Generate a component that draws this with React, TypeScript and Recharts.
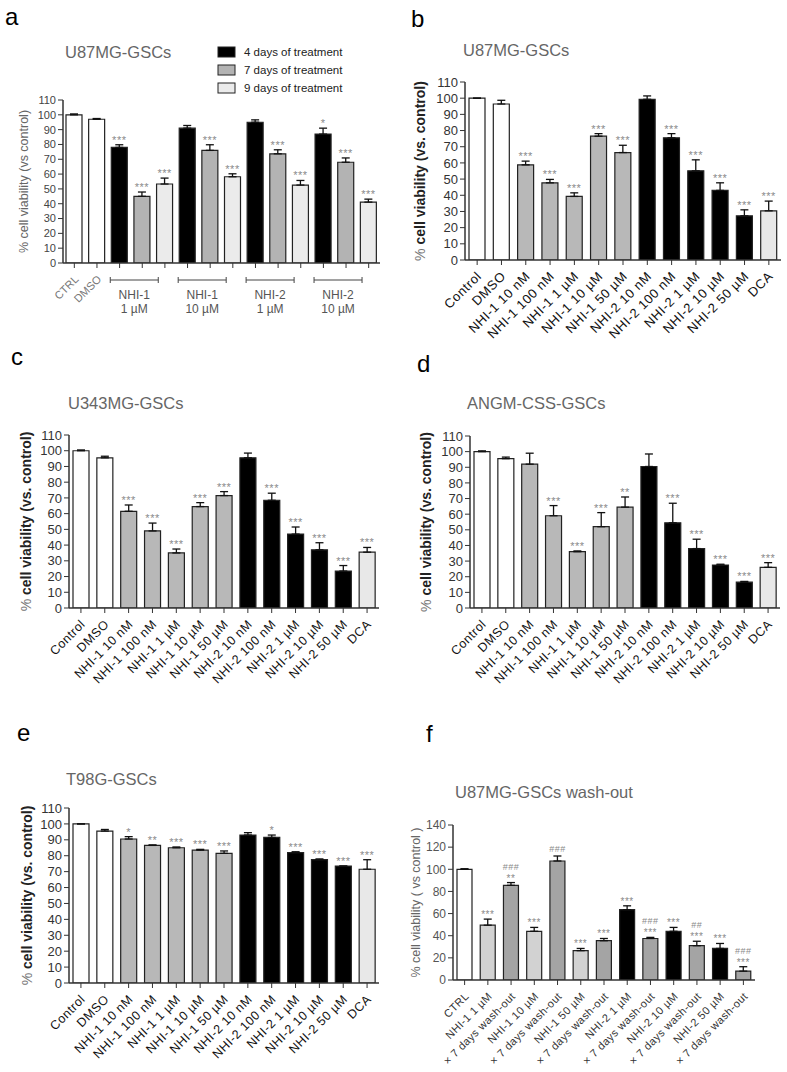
import React from 'react';
import { BarChart, Bar, XAxis, YAxis, Cell, ErrorBar, LabelList } from 'recharts';

const FONT = '"Liberation Sans", Arial, Helvetica, sans-serif';
const AX = '#333';

// ---- panel a : U87MG-GSCs, 4 / 7 / 9 days ----
const aControls = ['CTRL', 'DMSO'];
const aControlVals = [100, 97];
const aControlErr = [0.6, 0.5];
const aGroups = ['NHI-1|1 µM', 'NHI-1|10 µM', 'NHI-2|1 µM', 'NHI-2|10 µM'];
const aSeries = ['4 days of treatment', '7 days of treatment', '9 days of treatment'];
const aSeriesColors = ['#000000', '#b3b3b3', '#ebebeb'];
const a4d = [78, 91, 95, 87];
const a4dErr = [1.8, 1.8, 1.6, 4];
const a4dSig = ['***', '', '', '*'];
const a7d = [45, 76, 73.7, 68];
const a7dErr = [2.9, 3.8, 2.7, 2.9];
const a7dSig = ['***', '***', '***', '***'];
const a9d = [53.3, 58.2, 52.6, 41.1];
const a9dErr = [4, 2, 3.1, 2];
const a9dSig = ['***', '***', '***', '***'];

// ---- panels b-e : dose series ----
const doseLabels = [
  'Control', 'DMSO', 'NHI-1 10 nM', 'NHI-1 100 nM', 'NHI-1 1 µM', 'NHI-1 10 µM', 'NHI-1 50 µM',
  'NHI-2 10 nM', 'NHI-2 100 nM', 'NHI-2 1 µM', 'NHI-2 10 µM', 'NHI-2 50 µM', 'DCA',
];
const doseColors = [
  '#ffffff', '#ffffff', '#b8b8b8', '#b8b8b8', '#b8b8b8', '#b8b8b8', '#b8b8b8',
  '#000000', '#000000', '#000000', '#000000', '#000000', '#e8e8e8',
];

const bVals = [100, 96.4, 58.8, 47.7, 39.3, 76.5, 66.4, 99.3, 75.5, 55.1, 43, 27.3, 30.4];
const bErr = [0, 2.3, 2.3, 2.1, 2.2, 1.6, 4.5, 2.1, 2.6, 6.8, 4.7, 3.7, 6];
const bSig = ['', '', '***', '***', '***', '***', '***', '', '***', '***', '***', '***', '***'];

const cVals = [100, 95.5, 61.5, 49, 35, 64.5, 71.5, 95.5, 68.5, 47, 37, 23.5, 35.5];
const cErr = [0.5, 1, 4, 5, 2.5, 2.5, 2.5, 3, 4.5, 4.5, 4.5, 3.5, 3];
const cSig = ['', '', '***', '***', '***', '***', '***', '', '***', '***', '***', '***', '***'];

const dVals = [100, 95.5, 92, 59, 36, 52, 64.5, 90.5, 54.5, 38, 27.5, 16.5, 26];
const dErr = [0.5, 1, 7, 6.5, 0.5, 9, 6.5, 8, 12.5, 6, 0.5, 0.5, 3];
const dSig = ['', '', '', '***', '***', '***', '**', '', '***', '***', '***', '***', '***'];

const eVals = [100, 95.5, 90.5, 86.5, 85, 83.5, 81.5, 93, 91.5, 82, 77.5, 73.5, 71.5];
const eErr = [0, 1, 1.5, 0.3, 0.5, 0.5, 1.5, 1.5, 1.5, 0.5, 0.5, 0, 6];
const eSig = ['', '', '*', '**', '***', '***', '***', '', '*', '***', '***', '***', '***'];

// ---- panel f : wash-out ----
const fLabels = [
  'CTRL', 'NHI-1 1 µM', '× 7 days wash-out', 'NHI-1 10 µM', '× 7 days wash-out', 'NHI-1 50 µM',
  '× 7 days wash-out', 'NHI-2 1 µM', '× 7 days wash-out', 'NHI-2 10 µM', '× 7 days wash-out',
  'NHI-2 50 µM', '× 7 days wash-out',
];
const fColors = [
  '#ffffff', '#d2d2d2', '#a4a4a4', '#d2d2d2', '#a4a4a4', '#d2d2d2', '#a4a4a4',
  '#000000', '#a4a4a4', '#000000', '#a4a4a4', '#000000', '#a4a4a4',
];
const fVals = [100, 49.5, 85.5, 44, 107.5, 26.5, 35.5, 63.5, 37.5, 44, 31, 28.5, 8];
const fErr = [0.5, 5.5, 2.5, 3.5, 4.5, 2, 2, 3.5, 1, 3.5, 4, 4.5, 4];
const fSig = ['', '***', '**', '***', '', '***', '***', '***', '***', '***', '***', '***', '***'];
const fHash = ['', '', '###', '', '###', '', '', '', '###', '', '##', '', '###'];

const ticks110 = [0, 10, 20, 30, 40, 50, 60, 70, 80, 90, 100, 110];
const ticks140 = [0, 20, 40, 60, 80, 100, 120, 140];

type Row = { key: string; v: number; e: number; er: number[]; sig: string; fill: string };

const mkRows = (labels: string[], vals: number[], err: number[], sig: string[], colors: string[]): Row[] =>
  labels.map((l, i) => ({ key: `${l}#${i}`, v: vals[i], e: err[i], er: [0, err[i]], sig: sig[i], fill: colors[i] }));

const aRows: Row[] = [
  ...aControls.map((l, i) => ({
    key: `${l}#${i}`, v: aControlVals[i], e: aControlErr[i], er: [0, aControlErr[i]], sig: '', fill: '#ffffff',
  })),
  ...aGroups.flatMap((g, gi) =>
    [[a4d, a4dErr, a4dSig], [a7d, a7dErr, a7dSig], [a9d, a9dErr, a9dSig]].map(([v, e, s], si) => ({
      key: `${si === 1 ? g : ''}#${2 + gi * 3 + si}`,
      v: v[gi] as number, e: e[gi] as number, er: [0, e[gi] as number], sig: s[gi] as string, fill: aSeriesColors[si],
    })),
  ),
];

const fRows: Row[] = mkRows(
  fLabels, fVals, fErr,
  fSig.map((s, i) => [fHash[i], s].filter(Boolean).join('|')),
  fColors,
);

// significance marks sit above the error-bar cap: the cap height is taken
// from the bar's own pixel height (px per unit = height / value)
const sigContent = (rows: Row[], fs: number, color: string) => (props: any) => {
  const vb = props.viewBox ?? props;
  const { value, index } = props;
  if (!value) return null;
  const r = rows[index];
  const top = vb.y - (r.v ? (Math.abs(vb.height) * r.e) / r.v : 0);
  const lines = String(value).split('|');
  const cx = vb.x + vb.width / 2;
  return (
    <g>
      {lines.map((t, i) => {
        const up = lines.length - 1 - i;
        const hash = t.startsWith('#');
        const by = top - 1 - (hash ? 3 : 0) - up * 9;
        return (
          <text key={i} x={cx} y={by} textAnchor="middle" fontSize={hash ? fs - 1 : fs}
            fill={color} fontFamily={FONT} letterSpacing={0.5}>{t}</text>
        );
      })}
    </g>
  );
};

const slantTick = (fs: number, color: string, ls = 0) => (p: any) => {
  const label = String(p.payload.value).split('#')[0];
  const ax = p.x + 5;
  const ay = p.y + 10;
  return (
    <text x={ax} y={ay} transform={`rotate(-45 ${ax} ${ay})`} textAnchor="end"
      fontSize={fs} fill={color} fontFamily={FONT} letterSpacing={ls}>{label}</text>
  );
};

const aTick = (p: any) => {
  const [label, idx] = String(p.payload.value).split('#');
  const i = Number(idx);
  if (i < 2) return slantTick(11, '#777')(p);
  if (!label) return <g />;
  const [drug, dose] = label.split('|');
  const cx = p.x - 8;
  const by = p.y + 10;
  return (
    <g fontFamily={FONT} fontSize={12} fill="#555">
      <line x1={cx - 24} x2={cx + 24} y1={by} y2={by} stroke="#444" />
      <line x1={cx - 24} x2={cx - 24} y1={by - 3} y2={by + 3} stroke="#444" />
      <line x1={cx + 24} x2={cx + 24} y1={by - 3} y2={by + 3} stroke="#444" />
      <text x={cx} y={p.y + 29} textAnchor="middle">{drug}</text>
      <text x={cx} y={p.y + 43} textAnchor="middle">{dose}</text>
    </g>
  );
};

type Box = { x0: number; x1: number; y0: number; y1: number };
const YW = 40;
const MT = 12;
const MR = 4;

function Panel({ rows, box, yMax, ticks, tick, xHeight, barSize, tickFs, tickColor, sigFs }: {
  rows: Row[]; box: Box; yMax: number; ticks: number[]; tick: any; xHeight: number;
  barSize: number; tickFs: number; tickColor: string; sigFs: number;
}) {
  return (
    <div style={{ position: 'absolute', left: box.x0 - YW, top: box.y0 - MT }}>
      <BarChart width={box.x1 - box.x0 + YW + MR} height={box.y1 - box.y0 + MT + xHeight} data={rows}
        margin={{ top: MT, right: MR, left: 0, bottom: 0 }} style={{ fontFamily: FONT }}>
        <XAxis dataKey="key" interval={0} tickSize={5} height={xHeight} tick={tick}
          axisLine={{ stroke: AX, strokeWidth: 1.5 }} tickLine={{ stroke: AX }} />
        <YAxis domain={[0, yMax]} ticks={ticks} interval={0} width={YW} tickSize={5} allowDataOverflow
          axisLine={{ stroke: AX, strokeWidth: 1.5 }} tickLine={{ stroke: AX }}
          tick={{ fontSize: tickFs, fill: tickColor, fontFamily: FONT }} />
        <Bar dataKey="v" barSize={barSize} stroke="#222" strokeWidth={1.2} isAnimationActive={false}>
          {rows.map(r => <Cell key={r.key} fill={r.fill} />)}
          <ErrorBar dataKey="er" width={4} stroke="#111" strokeWidth={1.3} direction="y" isAnimationActive={false} />
          <LabelList dataKey="sig" content={sigContent(rows, sigFs, '#8a8a8a')} />
        </Bar>
      </BarChart>
    </div>
  );
}

const boxA: Box = { x0: 63, x1: 380, y0: 100, y1: 263 };
const boxB: Box = { x0: 465, x1: 781, y0: 82, y1: 260 };
const boxC: Box = { x0: 69, x1: 379, y0: 435, y1: 608 };
const boxD: Box = { x0: 470, x1: 780, y0: 436, y1: 608 };
const boxE: Box = { x0: 69, x1: 379, y0: 808, y1: 983 };
const boxF: Box = { x0: 453, x1: 755, y0: 825, y1: 980 };

const BoldYLabel = ({ cx, cy }: { cx: number; cy: number }) => (
  <text x={cx} y={cy} transform={`rotate(-90 ${cx} ${cy})`} textAnchor="middle" fontSize={14} fontFamily={FONT}>
    <tspan fill="#777" fontWeight="normal">%</tspan>
    <tspan fill="#222" fontWeight="bold"> cell viability (vs. control)</tspan>
  </text>
);

const LightYLabel = ({ cx, cy, text }: { cx: number; cy: number; text: string }) => (
  <text x={cx} y={cy} transform={`rotate(-90 ${cx} ${cy})`} textAnchor="middle" fontSize={12.5}
    fontFamily={FONT} fill="#666">{text}</text>
);

export default function App() {
  const doseRows = (v: number[], e: number[], s: string[]) => mkRows(doseLabels, v, e, s, doseColors);
  return (
    <div style={{ position: 'absolute', left: 0, top: 0, width: 787, height: 1072, background: '#fff', fontFamily: FONT }}>
      <Panel rows={aRows} box={boxA} yMax={110} ticks={ticks110} tick={aTick} xHeight={60} barSize={16}
        tickFs={11} tickColor="#444" sigFs={11} />
      <Panel rows={doseRows(bVals, bErr, bSig)} box={boxB} yMax={110} ticks={ticks110} tick={slantTick(13, '#111', 0.6)}
        xHeight={90} barSize={16} tickFs={13} tickColor="#333" sigFs={11} />
      <Panel rows={doseRows(cVals, cErr, cSig)} box={boxC} yMax={110} ticks={ticks110} tick={slantTick(12.5, '#111', 0.5)}
        xHeight={90} barSize={16} tickFs={13} tickColor="#333" sigFs={11} />
      <Panel rows={doseRows(dVals, dErr, dSig)} box={boxD} yMax={110} ticks={ticks110} tick={slantTick(12.5, '#111', 0.5)}
        xHeight={90} barSize={16} tickFs={13} tickColor="#333" sigFs={11} />
      <Panel rows={doseRows(eVals, eErr, eSig)} box={boxE} yMax={110} ticks={ticks110} tick={slantTick(12.5, '#111', 0.5)}
        xHeight={85} barSize={16} tickFs={13} tickColor="#333" sigFs={11} />
      <Panel rows={fRows} box={boxF} yMax={140} ticks={ticks140} tick={slantTick(11, '#333', 0.4)}
        xHeight={90} barSize={15} tickFs={12} tickColor="#555" sigFs={10} />

      <svg width={787} height={1072} style={{ position: 'absolute', left: 0, top: 0, pointerEvents: 'none' }}>
        <g fontFamily={FONT} fontSize={24} fill="#000">
          <text x={5} y={25}>a</text>
          <text x={411} y={27}>b</text>
          <text x={11} y={365}>c</text>
          <text x={417} y={372}>d</text>
          <text x={17} y={741}>e</text>
          <text x={426} y={742}>f</text>
        </g>
        <g fontFamily={FONT} fontSize={16.5} fill="#666">
          <text x={65} y={58}>U87MG-GSCs</text>
          <text x={463} y={56}>U87MG-GSCs</text>
          <text x={68} y={409}>U343MG-GSCs</text>
          <text x={467} y={409}>ANGM-CSS-GSCs</text>
          <text x={66} y={785}>T98G-GSCs</text>
          <text x={455} y={798}>U87MG-GSCs wash-out</text>
        </g>
        <g fontFamily={FONT} fontSize={11.5} fill="#222">
          {aSeries.map((s, i) => (
            <g key={s}>
              <rect x={218} y={47 + i * 18} width={17} height={10} fill={aSeriesColors[i]} stroke="#222" strokeWidth={1} />
              <text x={244} y={56 + i * 18}>{s}</text>
            </g>
          ))}
        </g>
        <LightYLabel cx={28} cy={(boxA.y0 + boxA.y1) / 2} text="% cell viability (vs control)" />
        <BoldYLabel cx={425} cy={(boxB.y0 + boxB.y1) / 2} />
        <BoldYLabel cx={31} cy={(boxC.y0 + boxC.y1) / 2} />
        <BoldYLabel cx={431} cy={(boxD.y0 + boxD.y1) / 2} />
        <BoldYLabel cx={32} cy={(boxE.y0 + boxE.y1) / 2} />
        <LightYLabel cx={420} cy={(boxF.y0 + boxF.y1) / 2} text="% cell viability ( vs control )" />
      </svg>
    </div>
  );
}
